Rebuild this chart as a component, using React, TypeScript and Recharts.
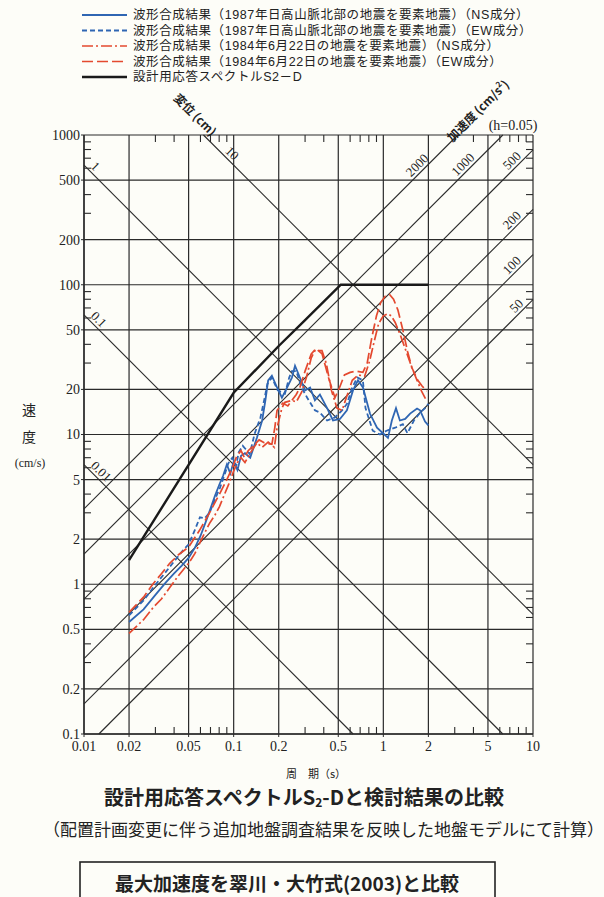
import React from 'react';
import { LineChart, Line, XAxis, YAxis, CartesianGrid, ReferenceLine, ReferenceDot } from 'recharts';

// ---- axes / grid values ----
const X_TICKS = [0.01, 0.02, 0.05, 0.1, 0.2, 0.5, 1, 2, 5, 10];
const Y_TICKS = [0.1, 0.2, 0.5, 1, 2, 5, 10, 20, 50, 100, 200, 500, 1000];
const MINOR_MULTS = [3, 4, 6, 7, 8, 9];
const X_DECADES = [0.01, 0.1, 1];
const Y_DECADES = [0.1, 1, 10, 100];
const DISP_LINES = [0.01, 0.1, 1, 10]; // displacement (cm)
const DISP_LABELS = ['0.01', '0.1', '1', '10'];
const ACC_LINES = [50, 100, 200, 500, 1000, 2000]; // acceleration (cm/s2)
const ACC_LABELS = ['50', '100', '200', '500', '1000', '2000'];

// ---- series [period (s), velocity (cm/s)] ----
const S2D = [[0.02, 1.45], [0.1, 19], [0.2, 39], [0.3, 58], [0.52, 100], [2, 100]];

const NS1987 = [
  [0.02, 0.56], [0.025, 0.68], [0.03, 0.85], [0.035, 1.02], [0.04, 1.18], [0.045, 1.33], [0.05, 1.5],
  [0.055, 1.75], [0.06, 2.1], [0.065, 2.6], [0.07, 3.2], [0.075, 3.9], [0.08, 4.6], [0.085, 5.3],
  [0.09, 6.3], [0.095, 5.5], [0.1, 6.6], [0.106, 5.8], [0.112, 7.2], [0.119, 7.5], [0.129, 7.0],
  [0.136, 8.2], [0.143, 9.5], [0.155, 12.4], [0.163, 17], [0.17, 23], [0.18, 24.7], [0.195, 20.6],
  [0.21, 17.6], [0.227, 20.5], [0.245, 24], [0.257, 28.8], [0.277, 24], [0.3, 19.7], [0.324, 20.6],
  [0.349, 16.9], [0.377, 18.5], [0.421, 15], [0.461, 12.4], [0.513, 12.7], [0.571, 14.5], [0.627, 19.7],
  [0.677, 23], [0.731, 20.6], [0.814, 13.8], [0.907, 11.1], [0.995, 10.2], [1.074, 9.5], [1.14, 12.4],
  [1.215, 15], [1.29, 12.4], [1.4, 12.7], [1.51, 13.8], [1.68, 14.9], [1.76, 14.5], [1.9, 12.2], [2.0, 11.5],
];

const EW1987 = [
  [0.02, 0.62], [0.025, 0.78], [0.029, 0.95], [0.035, 1.2], [0.04, 1.42], [0.046, 1.69], [0.05, 1.85],
  [0.055, 2.3], [0.0595, 2.8], [0.064, 2.75], [0.069, 3.0], [0.075, 3.7], [0.081, 4.4], [0.087, 5.4],
  [0.092, 6.4], [0.098, 7.0], [0.104, 6.2], [0.108, 7.6], [0.115, 8.4], [0.12, 8.0], [0.128, 7.4],
  [0.138, 10.1], [0.151, 13], [0.16, 17], [0.168, 21.8], [0.18, 24], [0.197, 19.7], [0.22, 18.7],
  [0.235, 24], [0.245, 26.5], [0.262, 26.5], [0.284, 20.6], [0.31, 17.6], [0.349, 14.5], [0.377, 14],
  [0.421, 12.4], [0.475, 13], [0.53, 14.5], [0.571, 16], [0.62, 20.6], [0.67, 24], [0.73, 23], [0.76, 15],
  [0.85, 10.6], [0.95, 10], [1.05, 10.6], [1.2, 11.1], [1.35, 11.7], [1.45, 10.2], [1.6, 12.4], [1.76, 14],
  [1.9, 15], [2.0, 16],
];

const NS1984 = [
  [0.02, 0.47], [0.025, 0.58], [0.029, 0.7], [0.033, 0.8], [0.0374, 0.95], [0.043, 1.15], [0.05, 1.38],
  [0.055, 1.6], [0.0593, 1.88], [0.064, 2.2], [0.069, 2.55], [0.075, 2.9], [0.0804, 3.3], [0.087, 4.0],
  [0.093, 4.7], [0.1, 5.7], [0.106, 6.5], [0.112, 7.0], [0.119, 6.5], [0.13, 7.6], [0.143, 8.8],
  [0.155, 8.2], [0.17, 8.9], [0.187, 8.2], [0.195, 11.1], [0.21, 15], [0.22, 16.4], [0.245, 16.9],
  [0.262, 16.5], [0.284, 19.1], [0.306, 24], [0.33, 32.5], [0.349, 36.3], [0.389, 36.3], [0.416, 29.8],
  [0.45, 19.7], [0.49, 15], [0.53, 14.5], [0.57, 18], [0.62, 23], [0.68, 25], [0.75, 24.5], [0.81, 31],
  [0.87, 42], [0.93, 55], [1.0, 62], [1.07, 64], [1.13, 62], [1.2, 56], [1.3, 46], [1.42, 36], [1.55, 28],
  [1.68, 23], [1.8, 19.5], [1.93, 17],
];

const EW1984 = [
  [0.02, 0.65], [0.025, 0.82], [0.0288, 1.0], [0.033, 1.18], [0.0374, 1.38], [0.043, 1.58], [0.05, 1.77],
  [0.0593, 2.3], [0.069, 3.0], [0.0804, 4.0], [0.09, 5.0], [0.098, 6.0], [0.105, 7.2], [0.112, 7.8],
  [0.118, 7.0], [0.125, 7.8], [0.137, 8.5], [0.148, 9.2], [0.16, 8.8], [0.18, 8.6], [0.188, 11],
  [0.195, 14.5], [0.213, 16.2], [0.23, 15.5], [0.245, 16.9], [0.262, 18.5], [0.277, 20.6], [0.3, 26.5],
  [0.33, 34.5], [0.355, 37.5], [0.39, 34.5], [0.43, 24], [0.475, 17.6], [0.51, 20.6], [0.55, 25],
  [0.6, 26], [0.66, 26.5], [0.73, 26], [0.78, 30], [0.84, 45], [0.9, 62], [0.96, 76], [1.03, 84],
  [1.1, 86], [1.17, 80], [1.25, 68], [1.35, 50], [1.45, 36], [1.55, 28], [1.7, 23], [1.82, 21], [1.95, 19.5],
];

const LEGEND_NAMES = [
  '波形合成結果（1987年日高山脈北部の地震を要素地震）（NS成分）',
  '波形合成結果（1987年日高山脈北部の地震を要素地震）（EW成分）',
  '波形合成結果（1984年6月22日の地震を要素地震）（NS成分）',
  '波形合成結果（1984年6月22日の地震を要素地震）（EW成分）',
  '設計用応答スペクトルS2－D',
];

// ---- styles ----
const BLUE = '#2f66b3';
const RED = '#e4492f';
const INK = '#222';
const SERIF = '"Liberation Serif", "DejaVu Serif", serif';
const CJK = '"Noto Sans CJK JP", "Noto Sans", sans-serif';
const LEGEND_FONT = '"Liberation Sans", "Noto Sans CJK JP", sans-serif';
const X_MIN = 0.01, X_MAX = 10, Y_MIN = 0.1, Y_MAX = 1000;
const TF = Math.pow(10, 7 / 150); // minor tick length factor (7px)
const TWO_PI = 2 * Math.PI;

const SERIES = [
  { key: 'ns87', data: NS1987, color: BLUE, dash: undefined, width: 1.8 },
  { key: 'ew87', data: EW1987, color: BLUE, dash: '5 3', width: 1.8 },
  { key: 'ns84', data: NS1984, color: RED, dash: '11 3 2 3', width: 1.7 },
  { key: 'ew84', data: EW1984, color: RED, dash: '11 4', width: 1.7 },
  { key: 's2d', data: S2D, color: '#1a1a1a', dash: undefined, width: 2.4 },
];

const toRows = (arr: number[][]) => arr.map(([T, v]) => ({ T, v }));

const mkLabel = (text: string, rot: number, anchor: string) => (props: any) => {
  const { cx, cy } = props;
  if (cx == null || cy == null) return <g />;
  return (
    <text x={cx} y={cy} dy={-3} transform={`rotate(${rot} ${cx} ${cy})`} textAnchor={anchor}
      fontSize={13} fontFamily={SERIF} fill={INK}>{text}</text>
  );
};

export default function App() {
  const minorY: number[] = [];
  Y_DECADES.forEach((d) => MINOR_MULTS.forEach((m) => minorY.push(d * m)));
  const minorX: number[] = [];
  X_DECADES.forEach((d) => MINOR_MULTS.forEach((m) => minorX.push(d * m)));

  const dispSegs = DISP_LINES.map((D) => {
    const c = TWO_PI * D;
    const t1 = Math.max(X_MIN, c / Y_MAX);
    const t2 = Math.min(X_MAX, c / Y_MIN);
    return [{ x: t1, y: c / t1 }, { x: t2, y: c / t2 }];
  });
  const accSegs = ACC_LINES.map((A) => {
    const c = A / TWO_PI;
    const t1 = Math.max(X_MIN, Y_MIN / c);
    const t2 = Math.min(X_MAX, Y_MAX / c);
    return [{ x: t1, y: c * t1 }, { x: t2, y: c * t2 }];
  });
  // label anchor periods (placement only)
  const dispLabelT = [0.0106, 0.0106, 0.0106, 0.084];
  const accLabelT = [9.0, 8.7, 8.7, 8.7, 4.25, 2.1];

  const tickStyle = { fontSize: 14, fill: INK, fontFamily: SERIF };

  return (
    <div style={{ position: 'absolute', left: 0, top: 0, width: 604, height: 897, background: '#fdfdf8', overflow: 'hidden' }}>
      <LineChart width={604} height={760} margin={{ top: 135, right: 71, bottom: 0, left: 0 }}
        style={{ position: 'absolute', left: 0, top: 0 }}>
        <CartesianGrid stroke="#2a2a2a" strokeWidth={1.2} />
        <XAxis dataKey="T" type="number" scale="log" domain={[X_MIN, X_MAX]} ticks={X_TICKS} interval={0}
          allowDataOverflow height={26} tickSize={3} tickMargin={4} tick={tickStyle}
          axisLine={{ stroke: '#2a2a2a', strokeWidth: 1.4 }} tickLine={{ stroke: '#2a2a2a' }} />
        <YAxis dataKey="v" type="number" scale="log" domain={[Y_MIN, Y_MAX]} ticks={Y_TICKS} interval={0}
          allowDataOverflow width={84} tickSize={3} tickMargin={1} tick={tickStyle}
          axisLine={{ stroke: '#2a2a2a', strokeWidth: 1.4 }} tickLine={{ stroke: '#2a2a2a' }} />

        {minorY.map((v) => (
          <ReferenceLine key={'yl' + v} ifOverflow="visible" stroke="#2a2a2a" strokeWidth={1.1}
            segment={[{ x: X_MIN, y: v }, { x: X_MIN * TF, y: v }]} />
        ))}
        {minorY.map((v) => (
          <ReferenceLine key={'yr' + v} ifOverflow="visible" stroke="#2a2a2a" strokeWidth={1.1}
            segment={[{ x: X_MAX / TF, y: v }, { x: X_MAX, y: v }]} />
        ))}
        {minorX.map((t) => (
          <ReferenceLine key={'xb' + t} ifOverflow="visible" stroke="#2a2a2a" strokeWidth={1.1}
            segment={[{ x: t, y: Y_MIN }, { x: t, y: Y_MIN * TF }]} />
        ))}
        {minorX.map((t) => (
          <ReferenceLine key={'xt' + t} ifOverflow="visible" stroke="#2a2a2a" strokeWidth={1.1}
            segment={[{ x: t, y: Y_MAX / TF }, { x: t, y: Y_MAX }]} />
        ))}

        {dispSegs.map((seg, i) => (
          <ReferenceLine key={'d' + i} ifOverflow="visible" stroke="#2a2a2a" strokeWidth={1.1} segment={seg} />
        ))}
        {accSegs.map((seg, i) => (
          <ReferenceLine key={'a' + i} ifOverflow="visible" stroke="#2a2a2a" strokeWidth={1.1} segment={seg} />
        ))}
        {DISP_LINES.map((D, i) => (
          <ReferenceDot key={'dl' + i} ifOverflow="visible" x={dispLabelT[i]} y={(TWO_PI * D) / dispLabelT[i]}
            r={0} shape={mkLabel(DISP_LABELS[i], 45, 'start')} />
        ))}
        {ACC_LINES.map((A, i) => (
          <ReferenceDot key={'al' + i} ifOverflow="visible" x={accLabelT[i]} y={(A / TWO_PI) * accLabelT[i]}
            r={0} shape={mkLabel(ACC_LABELS[i], -45, 'end')} />
        ))}

        {SERIES.map((s) => (
          <Line key={s.key} data={toRows(s.data)} dataKey="v" type="linear" stroke={s.color}
            strokeWidth={s.width} strokeDasharray={s.dash} dot={false} activeDot={false}
            isAnimationActive={false} />
        ))}
      </LineChart>

      <svg width={604} height={897} style={{ position: 'absolute', left: 0, top: 0, pointerEvents: 'none' }}>
        {LEGEND_NAMES.map((name, i) => {
          const y = 15 + i * 15.5;
          const s = SERIES[i];
          return (
            <g key={name}>
              <line x1={82} x2={127} y1={y} y2={y} stroke={s.color} strokeWidth={s.width}
                strokeDasharray={s.dash} />
              <text x={133} y={y} dominantBaseline="central" fontSize={12.5} letterSpacing={0.6}
                fontFamily={LEGEND_FONT} fill={INK}>{name}</text>
            </g>
          );
        })}

        <text x={196} y={114} transform="rotate(45 196 114)" textAnchor="middle" dominantBaseline="central"
          fontSize={12} fontFamily={CJK} fill={INK} fontWeight={700}>変位 (cm)</text>
        <text x={477} y={110} transform="rotate(-45 477 110)" textAnchor="middle" dominantBaseline="central"
          fontSize={12} fontFamily={CJK} fill={INK} fontWeight={700}>加速度 (cm/s<tspan dy={-4} fontSize={8}>2</tspan><tspan dy={4}>)</tspan></text>
        <text x={513} y={130} textAnchor="middle" fontSize={14} fontFamily={SERIF} fill={INK}>(h=0.05)</text>

        <text x={29} y={409} textAnchor="middle" dominantBaseline="central" fontSize={14} fontFamily={CJK} fill={INK}>速</text>
        <text x={29} y={436} textAnchor="middle" dominantBaseline="central" fontSize={14} fontFamily={CJK} fill={INK}>度</text>
        <text x={30} y={463} textAnchor="middle" dominantBaseline="central" fontSize={12} fontFamily={SERIF} fill={INK}>(cm/s)</text>

        <text x={316} y={773} textAnchor="middle" dominantBaseline="central" fontSize={11} fontFamily={CJK} fill={INK}>周　期（s）</text>
        <text x={304} y={796} textAnchor="middle" dominantBaseline="central" fontSize={20} fontFamily={CJK} fill={INK} fontWeight={700}>
          設計用応答スペクトルS<tspan dy={5} fontSize={12}>2</tspan><tspan dy={-5}>-Dと検討結果の比較</tspan>
        </text>
        <text x={43} y={828} dominantBaseline="central" fontSize={17} fontFamily={CJK} fill={INK}>
          （配置計画変更に伴う追加地盤調査結果を反映した地盤モデルにて計算）
        </text>
        <rect x={80} y={862} width={415} height={60} fill="none" stroke={INK} strokeWidth={1.6} />
        <text x={287} y={882} textAnchor="middle" dominantBaseline="central" fontSize={19} fontFamily={CJK} fill={INK} fontWeight={700}>
          最大加速度を翠川・大竹式(2003)と比較
        </text>
      </svg>
    </div>
  );
}
